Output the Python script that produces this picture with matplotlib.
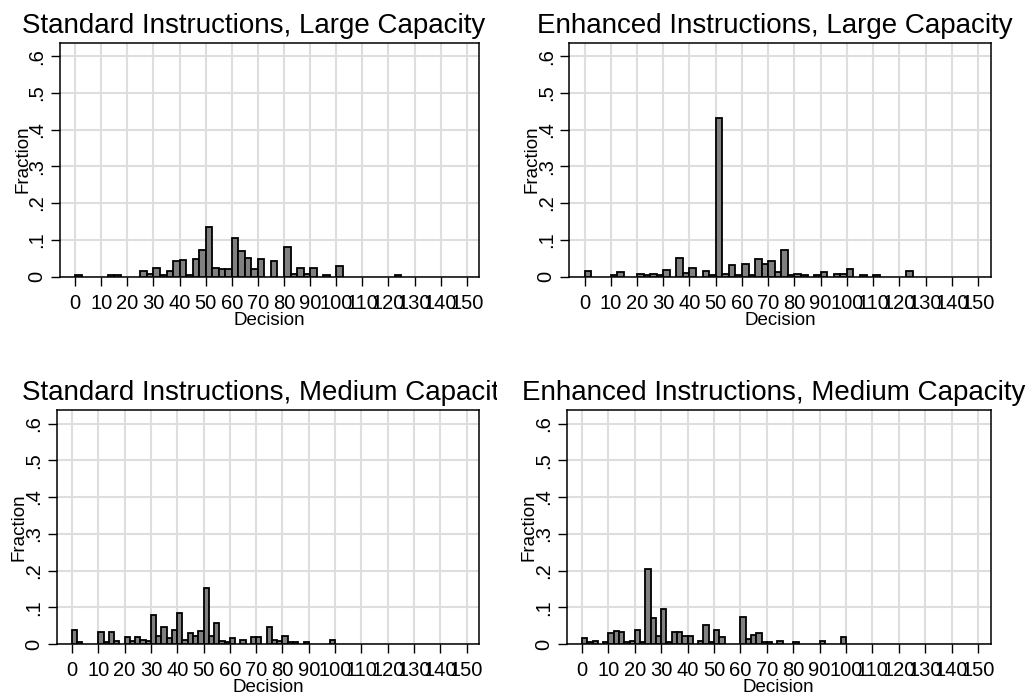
import matplotlib
matplotlib.use("Agg")
import matplotlib.pyplot as plt
from matplotlib.transforms import Bbox, TransformedBbox

plt.rcParams["font.family"] = ["Liberation Sans", "DejaVu Sans"]

# bin starts (Decision) and fractions
std_large_bins = [0, 12.5, 15, 25, 27.5, 30, 32.5, 35, 37.5, 40, 42.5, 45, 47.5, 50,
                  52.5, 55, 57.5, 60, 62.5, 65, 67.5, 70, 75, 80, 82.5, 85, 87.5, 90,
                  95, 100, 122.5]
std_large_frac = [.004, .004, .004, .016, .006, .024, .005, .016, .041, .045, .005, .048,
                  .073, .136, .024, .020, .020, .104, .069, .051, .020, .048, .041, .081,
                  .006, .024, .006, .024, .004, .029, .004]

enh_large_bins = [0, 10, 12.5, 20, 22.5, 25, 27.5, 30, 35, 37.5, 40, 45, 47.5, 50, 52.5,
                  55, 57.5, 60, 62.5, 65, 67.5, 70, 72.5, 75, 77.5, 80, 82.5, 87.5, 90,
                  95, 97.5, 100, 105, 110, 122.5]
enh_large_frac = [.015, .004, .011, .007, .005, .007, .005, .019, .051, .010, .023, .015,
                  .005, .433, .007, .032, .005, .035, .005, .048, .034, .042, .011, .072,
                  .003, .007, .004, .004, .011, .007, .007, .020, .004, .004, .016]

std_medium_bins = [0, 2, 10, 12, 14, 16, 20, 22, 24, 26, 28, 30, 32, 34, 36, 38, 40, 42,
                   44, 46, 48, 50, 52, 54, 56, 58, 60, 64, 68, 70, 74, 76, 78, 80, 82, 84,
                   88, 98]
std_medium_frac = [.039, .005, .032, .005, .032, .007, .020, .007, .020, .012, .007, .080,
                   .023, .047, .016, .039, .085, .011, .029, .023, .035, .153, .023, .056,
                   .007, .005, .016, .011, .020, .020, .045, .011, .007, .023, .005, .005,
                   .005, .012]

enh_medium_bins = [0, 2, 4, 8, 10, 12, 14, 16, 18, 20, 22, 24, 26, 28, 30, 32, 34, 36, 38,
                   40, 44, 46, 48, 50, 52, 60, 62, 64, 66, 68, 70, 74, 80, 90, 98]
enh_medium_frac = [.017, .005, .009, .005, .029, .035, .033, .006, .008, .039, .005, .205,
                   .071, .023, .095, .005, .032, .032, .023, .023, .008, .052, .005, .039,
                   .020, .074, .013, .024, .029, .006, .006, .009, .006, .009, .018]

titles = ["Standard Instructions, Large Capacity",
          "Enhanced Instructions, Large Capacity",
          "Standard Instructions, Medium Capacity",
          "Enhanced Instructions, Medium Capacity"]

y_ticks = [0, .1, .2, .3, .4, .5, .6]
y_labels = ["0", ".1", ".2", ".3", ".4", ".5", ".6"]
x_ticks = list(range(0, 151, 10))

W, H = 1027, 700
fig = plt.figure(figsize=(W / 100, H / 100), dpi=100)

# (bins, fractions, bin width, plot box in px: left, right, top, bottom, title x, title baseline, clip x)
panels = [
    (std_large_bins, std_large_frac, 2.5, (60, 479.3, 42.7, 276.5), 22, 33, 497),
    (enh_large_bins, enh_large_frac, 2.5, (569.3, 990.7, 42.7, 276.5), 537, 33, W),
    (std_medium_bins, std_medium_frac, 2.0, (56.7, 479.3, 410, 644), 22, 400, 497),
    (enh_medium_bins, enh_medium_frac, 2.0, (566.7, 990.7, 410, 644), 522, 400, W),
]

for title, (bins, frac, bw, (l, r, t, b), tx, tb, clip_x) in zip(titles, panels):
    ax = fig.add_axes([l / W, 1 - b / H, (r - l) / W, (b - t) / H])
    ax.bar(bins, frac, width=bw, align="edge", color="#808080",
           edgecolor="black", linewidth=1.3, zorder=3)
    ax.set_xlim(-5.8, 154.8)
    ax.set_ylim(0, 0.637)
    ax.set_xticks(x_ticks)
    ax.set_yticks(y_ticks)
    ax.set_yticklabels(y_labels)
    ax.tick_params(axis="both", labelsize=14.5, length=6.3, width=1.0, direction="out")
    ax.tick_params(axis="x", pad=6.0)
    ax.tick_params(axis="y", pad=3.5, labelrotation=90)
    for lab in ax.get_yticklabels():
        lab.set_va("center")
    ax.grid(True, color="#dedede", linewidth=1.5)
    ax.set_axisbelow(True)
    for sp in ax.spines.values():
        sp.set_linewidth(1.1)

    ax.set_xlabel("Decision", fontsize=13.5)
    ax.xaxis.set_label_coords(0.5, -0.15)
    ax.set_ylabel("Fraction", fontsize=13.5)
    ax.yaxis.set_label_coords(-0.069, 0.5)

    txt = fig.text(tx / W, 1 - tb / H, title, fontsize=20, ha="left", va="baseline")
    txt.set_clip_box(TransformedBbox(Bbox.from_extents(0, 0, clip_x / W, 1), fig.transFigure))
    txt.set_clip_on(True)

fig.savefig("out.png", dpi=100, facecolor="white")
